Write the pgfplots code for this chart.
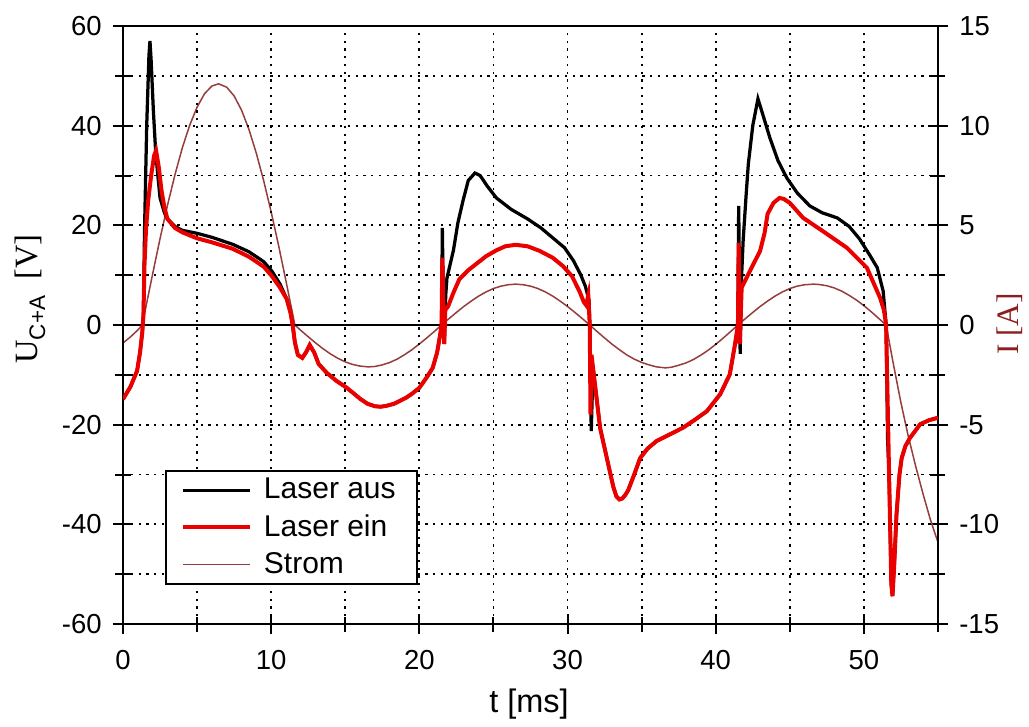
\documentclass[border=0pt]{standalone}
\usepackage{fontspec}
\setmainfont{Liberation Sans}
\newfontfamily\serif{Liberation Serif}
\usepackage{pgfplots}
\usepackage{pgfplotstable}
\pgfplotsset{compat=1.18}

\definecolor{strom}{RGB}{150,60,60}
\definecolor{ilabel}{RGB}{140,30,30}
\definecolor{laserred}{RGB}{235,0,0}

\pgfplotstableread{
t I
0 -0.9
0.5 -0.6
1.0 -0.25
1.3 0
1.5 0.74
2 2.56
2.5 4.33
3 6.0
3.5 7.52
4 8.88
4.5 10.02
5 10.93
5.5 11.6
6 11.99
6.45 12.1
7 11.93
7.5 11.49
8 10.78
8.5 9.81
9 8.61
9.5 7.22
10 5.67
10.5 3.99
11 2.2
11.3 1.1
11.6 0
12 -0.27
12.5 -0.59
13 -0.9
13.5 -1.19
14 -1.45
14.5 -1.67
15 -1.85
15.5 -1.98
16 -2.06
16.55 -2.1
17 -2.08
17.5 -2.0
18 -1.88
18.5 -1.71
19 -1.49
19.5 -1.24
20 -0.95
20.5 -0.65
21 -0.33
21.5 0
22 0.32
22.5 0.63
23 0.93
23.5 1.2
24 1.45
24.5 1.66
25 1.83
25.5 1.95
26 2.02
26.5 2.05
27 2.02
27.5 1.95
28 1.83
28.5 1.66
29 1.45
29.5 1.2
30 0.93
30.5 0.63
31 0.32
31.5 0
32 -0.33
32.5 -0.65
33 -0.96
33.5 -1.24
34 -1.5
34.5 -1.71
35 -1.88
35.5 -2.0
36 -2.1
36.6 -2.15
37 -2.12
37.5 -2.02
38 -1.9
38.5 -1.73
39 -1.51
39.5 -1.26
40 -0.97
40.5 -0.66
41 -0.33
41.5 0
42 0.32
42.5 0.63
43 0.93
43.5 1.2
44 1.45
44.5 1.66
45 1.83
45.5 1.95
46 2.02
46.6 2.05
47 2.03
47.5 1.97
48 1.86
48.5 1.7
49 1.49
49.5 1.25
50 0.97
50.5 0.66
51 0.33
51.5 0
52 -2.0
52.5 -3.9
53 -5.6
53.5 -7.1
54 -8.5
54.5 -9.8
55 -10.9
}\strom

\pgfplotstableread{
t V
0 -14.9
0.5 -12.4
0.95 -9.2
1.15 -5.5
1.3 -1.5
1.38 2
1.45 12
1.55 19
1.7 25
1.9 30
2.1 34
2.23 35
2.4 32
2.6 27
2.8 23.5
3.0 21.3
3.5 19.5
4.0 18.6
5.0 17.4
6.0 16.6
7.4 15.3
8.5 13.7
9.5 11.7
10.05 9.8
10.6 7.5
11.05 5.2
11.3 2.5
11.45 0
11.6 -3.5
11.8 -6.0
12.1 -6.6
12.35 -5.5
12.6 -4.0
12.9 -5.5
13.2 -7.8
13.75 -9.6
14.4 -11.2
15.1 -12.6
15.6 -13.8
16.0 -14.8
16.5 -15.8
17.0 -16.3
17.4 -16.4
17.8 -16.2
18.3 -15.8
18.7 -15.2
19.1 -14.6
19.5 -13.8
20.0 -12.6
20.5 -10.5
20.9 -8.6
21.2 -5.5
21.4 -2.0
21.5 0
21.55 13.5
21.62 4
21.68 -3.8
21.75 3
21.95 3.8
22.3 6.5
22.7 9.2
23.3 11.0
23.9 12.4
24.5 13.8
25.2 15.0
25.8 15.8
26.5 16.1
27.3 15.8
28.1 14.9
29.0 13.5
29.7 11.8
30.3 9.8
30.8 6.8
31.1 4.6
31.25 4.0
31.4 6.0
31.5 0
31.55 -18
31.62 -6
31.72 -8.6
32.2 -20.7
32.6 -26
32.9 -30
33.1 -32.6
33.3 -34.4
33.5 -35
33.7 -34.8
33.9 -34.1
34.1 -33.1
34.5 -30
34.9 -26.7
35.4 -24.8
36.0 -23.3
37.0 -21.8
37.8 -20.6
38.6 -19.0
39.4 -17.3
40.3 -13.9
40.95 -9.9
41.3 -3.9
41.5 0
41.55 16.5
41.62 -3.8
41.7 3
41.75 7.5
42.3 10.8
43.0 14.9
43.3 18.5
43.5 22.3
43.9 24.5
44.3 25.5
44.6 25.3
45.0 24.5
45.9 21.5
47.2 18.9
48.85 15.5
50.2 11.5
51.1 5.4
51.35 3
51.5 0
51.7 -30
51.85 -52
51.93 -54.4
52.05 -48
52.2 -38
52.4 -30
52.55 -26.7
52.8 -24.3
53.1 -22.7
53.8 -19.9
54.4 -19.1
55.0 -18.6
}\ein

\pgfplotstableread{
t V
0 -14.9
0.5 -12.4
0.95 -9.2
1.15 -5.5
1.3 -1.5
1.38 2
1.45 18.5
1.6 40
1.75 54
1.82 57
1.9 53
2.05 43
2.2 35
2.35 30
2.5 25.5
2.8 22.5
3.0 21.3
3.5 19.8
4.0 19.0
5.0 18.4
6.0 17.6
7.4 16.2
8.5 14.7
9.5 12.7
10.05 10.8
10.6 8.2
11.05 5.2
11.3 2.5
11.45 0
11.6 -3.5
11.8 -6.0
12.1 -6.6
12.35 -5.5
12.6 -4.0
12.9 -5.5
13.2 -7.8
13.75 -9.6
14.4 -11.2
15.1 -12.6
15.6 -13.8
16.0 -14.8
16.5 -15.8
17.0 -16.3
17.4 -16.4
17.8 -16.2
18.3 -15.8
18.7 -15.2
19.1 -14.6
19.5 -13.8
20.0 -12.6
20.5 -10.5
20.9 -8.6
21.2 -5.5
21.4 -2.0
21.5 0
21.55 19.5
21.62 5
21.68 -3.8
21.78 6
21.86 9.4
22.3 15
22.6 20.5
22.95 25
23.3 29
23.75 30.5
24.1 30
24.6 27.8
25.2 25.5
26.2 23.2
27.3 21.3
28.2 19.5
29.0 17.5
29.8 15.5
30.4 12.9
30.9 10
31.2 7.8
31.45 5
31.5 0
31.6 -21.3
31.72 -8.6
32.2 -20.7
32.6 -26
32.9 -30
33.1 -32.6
33.3 -34.4
33.5 -35
33.7 -34.8
33.9 -34.1
34.1 -33.1
34.5 -30
34.9 -26.7
35.4 -24.8
36.0 -23.3
37.0 -21.8
37.8 -20.6
38.6 -19.0
39.4 -17.3
40.3 -13.9
40.95 -9.9
41.3 -3.9
41.5 0
41.55 23.9
41.6 10
41.65 -5.8
41.75 10
41.85 16.9
42.05 26
42.2 32.3
42.5 40
42.85 45.4
43.1 43
43.65 37.6
44.2 33
44.8 29.5
45.5 26.5
46.35 23.9
47.2 22.5
48.2 21.5
49.0 19.8
49.7 17.3
50.4 14.0
50.9 11.5
51.3 6.8
51.5 0
51.6 -23
51.7 -30
51.85 -52
51.93 -54.4
52.05 -48
52.2 -38
52.4 -30
52.55 -26.7
52.8 -24.3
53.1 -22.7
53.8 -19.9
54.4 -19.1
55.0 -18.6
}\aus

\pgfplotsset{
  common/.style={
    scale only axis, width=326pt, height=239.2pt,
    xmin=0, xmax=55,
    tick align=center,
    major tick length=8pt, minor tick length=6pt,
    every tick/.style={black, line width=0.8pt},
    axis line style={line width=0.8pt},
    ticklabel style={font=\fontsize{11}{13}\selectfont},
    /pgf/number format/assume math mode=true,
  }
}

\begin{document}
\begin{tikzpicture}
% right axis: current
\begin{axis}[common,
  ymin=-15, ymax=15,
  axis x line=none, axis y line*=right,
  ytick={-15,-10,...,15},
  minor ytick={-12.5,-7.5,...,12.5},
  yticklabel style={anchor=west, xshift=1pt},
]
\addplot[strom, line width=0.6pt] table[x=t, y=I] {\strom};
\end{axis}
% left axis: voltages
\begin{axis}[common,
  ymin=-60, ymax=60,
  xtick={0,10,...,50}, minor xtick={5,15,...,55},
  ytick={-60,-40,...,60}, minor ytick={-50,-30,...,50},
  xtick pos=left, ytick pos=left,
  grid=both,
  major grid style={black, line width=0.7pt, dash pattern=on 0.9pt off 2.2pt},
  minor grid style={black, line width=0.7pt, dash pattern=on 0.9pt off 2.2pt},
  yticklabel style={anchor=east, xshift=-1pt},
  xticklabel style={anchor=north, yshift=-3pt},
  legend style={at={(rel axis cs:0.0515,0.2575)}, anchor=north west,
    draw=black, line width=0.8pt, fill=white,
    font=\fontsize{12}{14}\selectfont,
    inner xsep=6pt, inner ysep=0.5pt,
    nodes={inner xsep=2.6pt, inner ysep=2.4pt}},
  legend cell align=left,
  legend image code/.code={\draw[#1] (0pt,0pt) -- (27pt,0pt);},
]
\draw[black, line width=0.8pt] (axis cs:0,0) -- (axis cs:55,0);
\addplot[black, line width=1.3pt] table[x=t, y=V] {\aus};
\addlegendentry{\hspace{2pt}Laser aus}
\addplot[laserred, line width=1.6pt] table[x=t, y=V] {\ein};
\addlegendentry{\hspace{2pt}Laser ein}
\addlegendimage{strom, line width=0.6pt}
\addlegendentry{\hspace{2pt}Strom}
\end{axis}
% axis titles
\node[anchor=center, font=\fontsize{13}{15}\selectfont] at (162.4pt,-32pt) {t [ms]};
\node[anchor=center, rotate=90, font=\fontsize{13}{15}\selectfont] at (-37.2pt,130pt)
  {{\serif U}\raisebox{-0.45ex}{\fontsize{9}{10}\selectfont C+A}{\serif\ \ [V]}};
\node[anchor=center, rotate=90, text=ilabel, font=\fontsize{12.5}{14}\selectfont] at (354.8pt,120pt)
  {\serif I [A]};
\pgfresetboundingbox
\path (-49.2pt,-40.8pt) rectangle (362.4pt,249.6pt);
\end{tikzpicture}
\end{document}
